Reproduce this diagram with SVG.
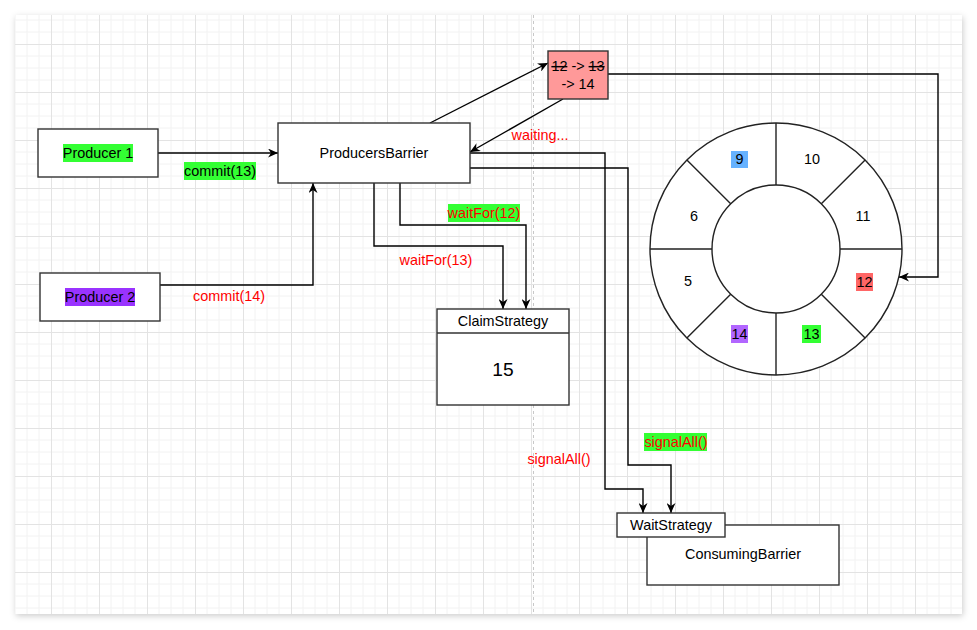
<svg xmlns="http://www.w3.org/2000/svg" width="977" height="630" viewBox="0 0 977 630">
<defs>
<pattern id="grid" patternUnits="userSpaceOnUse" x="3" y="44" width="48" height="48">
<path d="M12,0V48M24,0V48M36,0V48M0,12H48M0,24H48M0,36H48" stroke="#f2f2f2" stroke-width="1" fill="none"/>
<path d="M0.5,0V48M0,0.5H48" stroke="#e3e3e3" stroke-width="1" fill="none"/>
</pattern>
<filter id="sh" x="-5%" y="-5%" width="110%" height="110%">
<feDropShadow dx="1" dy="2" stdDeviation="3" flood-color="#000" flood-opacity="0.2"/>
</filter>
<marker id="arr" viewBox="0 0 10 9" refX="10" refY="4.5" markerWidth="10" markerHeight="9" markerUnits="userSpaceOnUse" orient="auto">
<path d="M0,0 L10,4.5 L0,9 L3,4.5 Z" fill="#000"/>
</marker>
</defs>
<style>
text{font-family:"Liberation Sans",Arial,sans-serif;font-size:14.4px;text-anchor:middle;fill:#000}
.red{fill:#ff0000}
.box{fill:#fff;stroke:#333;stroke-width:1.4}
.edge{fill:none;stroke:#000;stroke-width:1.4;marker-end:url(#arr)}
.ring{fill:none;stroke:#222;stroke-width:1.4}
.hg{fill:#33ff33}
</style>
<rect x="0" y="0" width="977" height="630" fill="#fff"/>
<rect x="15" y="15" width="947" height="599" fill="#fff" filter="url(#sh)"/>
<rect x="15" y="15" width="947" height="599" fill="url(#grid)"/>
<line x1="533.5" y1="15" x2="533.5" y2="614" stroke="#c8c8c8" stroke-width="1" stroke-dasharray="3,3"/>

<g id="edges">
<path class="edge" d="M158,153 L278,153"/>
<path class="edge" d="M160,285 L313,285 L313,183"/>
<path class="edge" d="M430,123 L548,63"/>
<path class="edge" d="M563,99 L470,152"/>
<path class="edge" d="M608,74 L938,74 L938,277 L899,277"/>
<path class="edge" d="M374,183 L374,246 L503,246 L503,309"/>
<path class="edge" d="M400,183 L400,225 L526,225 L526,309"/>
<path class="edge" d="M470,153 L605,153 L605,489 L643,489 L643,513"/>
<path class="edge" d="M470,168 L628,168 L628,465 L671,465 L671,513"/>
<rect class="hg" x="184" y="162" width="72" height="18"/>
<text x="220" y="176">commit(13)</text>
<text class="red" x="229" y="301">commit(14)</text>
<text class="red" x="540" y="140">waiting...</text>
<rect class="hg" x="448" y="204" width="72" height="18"/>
<text class="red" x="484" y="218">waitFor(12)</text>
<text class="red" x="436" y="265">waitFor(13)</text>
<text class="red" x="559" y="464">signalAll()</text>
<rect class="hg" x="644" y="433" width="63" height="18"/>
<text class="red" x="676" y="447">signalAll()</text>
</g>

<g id="producer1">
<rect class="box" x="38" y="129" width="120" height="48"/>
<rect x="63" y="144" width="70" height="18" fill="#33ff33"/>
<text x="98" y="158">Producer 1</text>
</g>
<g id="producer2">
<rect class="box" x="40" y="273" width="120" height="48"/>
<rect x="65" y="288" width="70" height="18" fill="#9933ff"/>
<text x="100" y="302">Producer 2</text>
</g>
<g id="producersBarrier">
<rect class="box" x="278" y="123" width="192" height="60"/>
<text x="374" y="158">ProducersBarrier</text>
</g>
<g id="cursor">
<rect x="548" y="51" width="60" height="48" fill="#ff9999" stroke="#333" stroke-width="1.4"/>
<text x="578" y="71"><tspan text-decoration="line-through">12</tspan> -&gt; <tspan text-decoration="line-through">13</tspan></text>
<text x="578" y="89">-&gt; 14</text>
</g>
<g id="claimStrategy">
<rect class="box" x="437" y="309" width="132" height="96"/>
<line x1="437" y1="333" x2="569" y2="333" stroke="#333" stroke-width="1.4"/>
<text x="503" y="326">ClaimStrategy</text>
<text x="503" y="376" style="font-size:19.2px">15</text>
</g>
<g id="consumingBarrier">
<rect class="box" x="647" y="525" width="192" height="60"/>
<text x="743" y="559">ConsumingBarrier</text>
</g>
<g id="waitStrategy">
<rect class="box" x="617" y="513" width="108" height="24"/>
<text x="671" y="530">WaitStrategy</text>
</g>
<g id="ringBuffer">
<circle cx="776" cy="249" r="126" fill="#fff" stroke="#222" stroke-width="1.4"/>
<circle class="ring" cx="776" cy="249" r="64"/>
<path class="ring" d="M840,249H902M712,249H650M776,185V123M776,313V375M821.3,203.7L865.1,159.9M730.7,203.7L686.9,159.9M821.3,294.3L865.1,338.1M730.7,294.3L686.9,338.1"/>
<rect x="731" y="151" width="17" height="17" fill="#66b2ff"/>
<text x="739.5" y="164">9</text>
<text x="812" y="164">10</text>
<text x="694" y="221">6</text>
<text x="863" y="221">11</text>
<text x="688" y="286">5</text>
<rect x="856" y="273" width="17" height="18" fill="#ff6666"/>
<text x="864.5" y="287">12</text>
<rect x="731" y="325" width="17" height="18" fill="#b266ff"/>
<text x="739.5" y="339">14</text>
<rect x="802" y="325" width="19" height="18" fill="#33ff33"/>
<text x="811.5" y="339">13</text>
</g>
</svg>
